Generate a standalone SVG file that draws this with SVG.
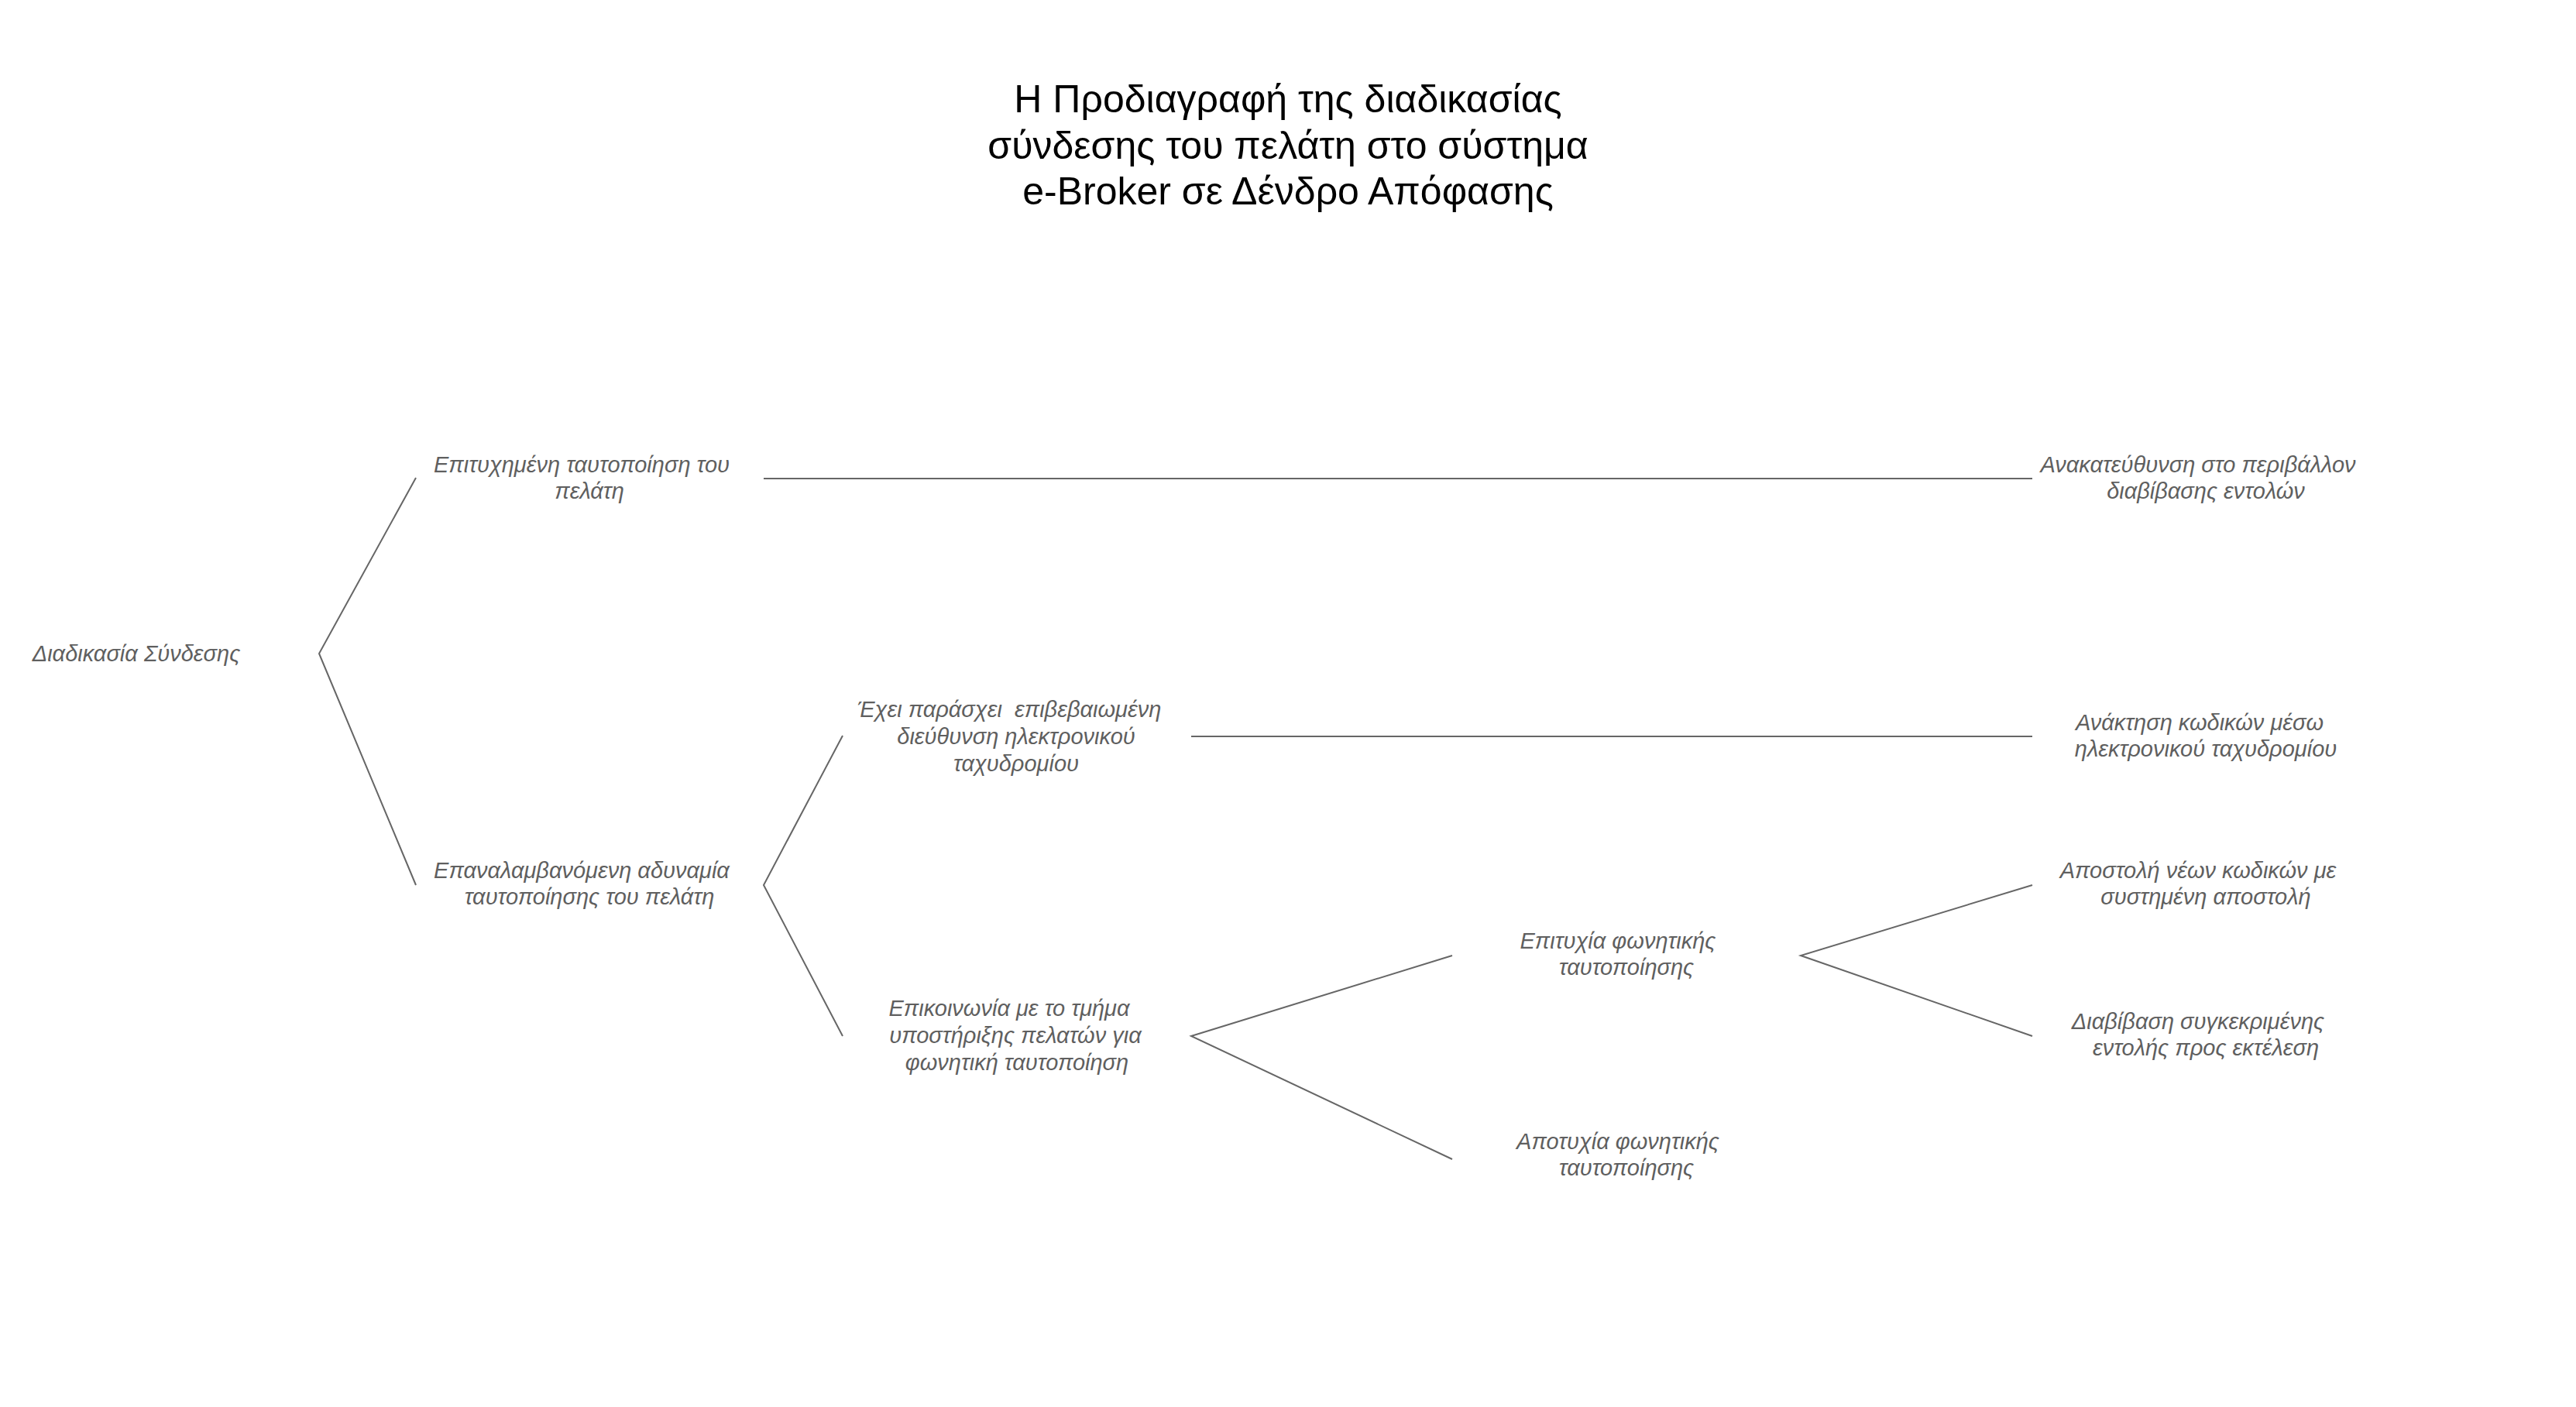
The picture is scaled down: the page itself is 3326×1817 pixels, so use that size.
<svg xmlns="http://www.w3.org/2000/svg" width="3326" height="1817" viewBox="0 0 3326 1817">
<style>
.title{font-family:"Liberation Sans",Arial,sans-serif;font-size:50px;fill:#000;text-anchor:middle}
.lbl{font-family:"Liberation Sans",Arial,sans-serif;font-size:29px;font-style:italic;fill:#5f5f5f;text-anchor:middle}
.edge{stroke:#666;stroke-width:2;fill:none}
</style>
<rect width="3326" height="1817" fill="#fff"/>
<g id="title">
<text class="title" x="1663" y="145">Η Προδιαγραφή της διαδικασίας</text>
<text class="title" x="1663" y="205">σύνδεσης του πελάτη στο σύστημα</text>
<text class="title" x="1663" y="264">e-Broker σε Δένδρο Απόφασης</text>
</g>
<g id="connectors">
<polyline class="edge" points="537,617 412,844 537,1143"/>
<line class="edge" x1="986" y1="618" x2="2624" y2="618"/>
<polyline class="edge" points="1088,950 986,1143 1088,1338"/>
<line class="edge" x1="1538" y1="951" x2="2624" y2="951"/>
<polyline class="edge" points="1875,1234 1538,1338 1875,1497"/>
<polyline class="edge" points="2624,1143 2325,1234 2624,1338"/>
</g>
<g id="n-root"><text class="lbl" x="176" y="854">Διαδικασία Σύνδεσης</text></g>
<g id="n-success"><text class="lbl" x="751" y="610">Επιτυχημένη ταυτοποίηση του</text><text class="lbl" x="761" y="644">πελάτη</text></g>
<g id="n-fail"><text class="lbl" x="751" y="1134">Επαναλαμβανόμενη αδυναμία</text><text class="lbl" x="761" y="1168">ταυτοποίησης του πελάτη</text></g>
<g id="n-email"><text class="lbl" x="1303" y="926" xml:space="preserve">Έχει παράσχει  επιβεβαιωμένη</text><text class="lbl" x="1312" y="961">διεύθυνση ηλεκτρονικού</text><text class="lbl" x="1312" y="996">ταχυδρομίου</text></g>
<g id="n-support"><text class="lbl" x="1303" y="1312">Επικοινωνία με το τμήμα</text><text class="lbl" x="1311" y="1347">υποστήριξης πελατών για</text><text class="lbl" x="1313" y="1382">φωνητική ταυτοποίηση</text></g>
<g id="n-voiceok"><text class="lbl" x="2089" y="1225">Επιτυχία φωνητικής</text><text class="lbl" x="2100" y="1259">ταυτοποίησης</text></g>
<g id="n-voicefail"><text class="lbl" x="2089" y="1484">Αποτυχία φωνητικής</text><text class="lbl" x="2100" y="1518">ταυτοποίησης</text></g>
<g id="n-redirect"><text class="lbl" x="2838" y="610">Ανακατεύθυνση στο περιβάλλον</text><text class="lbl" x="2848" y="644">διαβίβασης εντολών</text></g>
<g id="n-recover"><text class="lbl" x="2840" y="943">Ανάκτηση κωδικών μέσω</text><text class="lbl" x="2848" y="977">ηλεκτρονικού ταχυδρομίου</text></g>
<g id="n-newcodes"><text class="lbl" x="2838" y="1134">Αποστολή νέων κωδικών με</text><text class="lbl" x="2848" y="1168">συστημένη αποστολή</text></g>
<g id="n-order"><text class="lbl" x="2838" y="1329">Διαβίβαση συγκεκριμένης</text><text class="lbl" x="2848" y="1363">εντολής προς εκτέλεση</text></g>
</svg>
